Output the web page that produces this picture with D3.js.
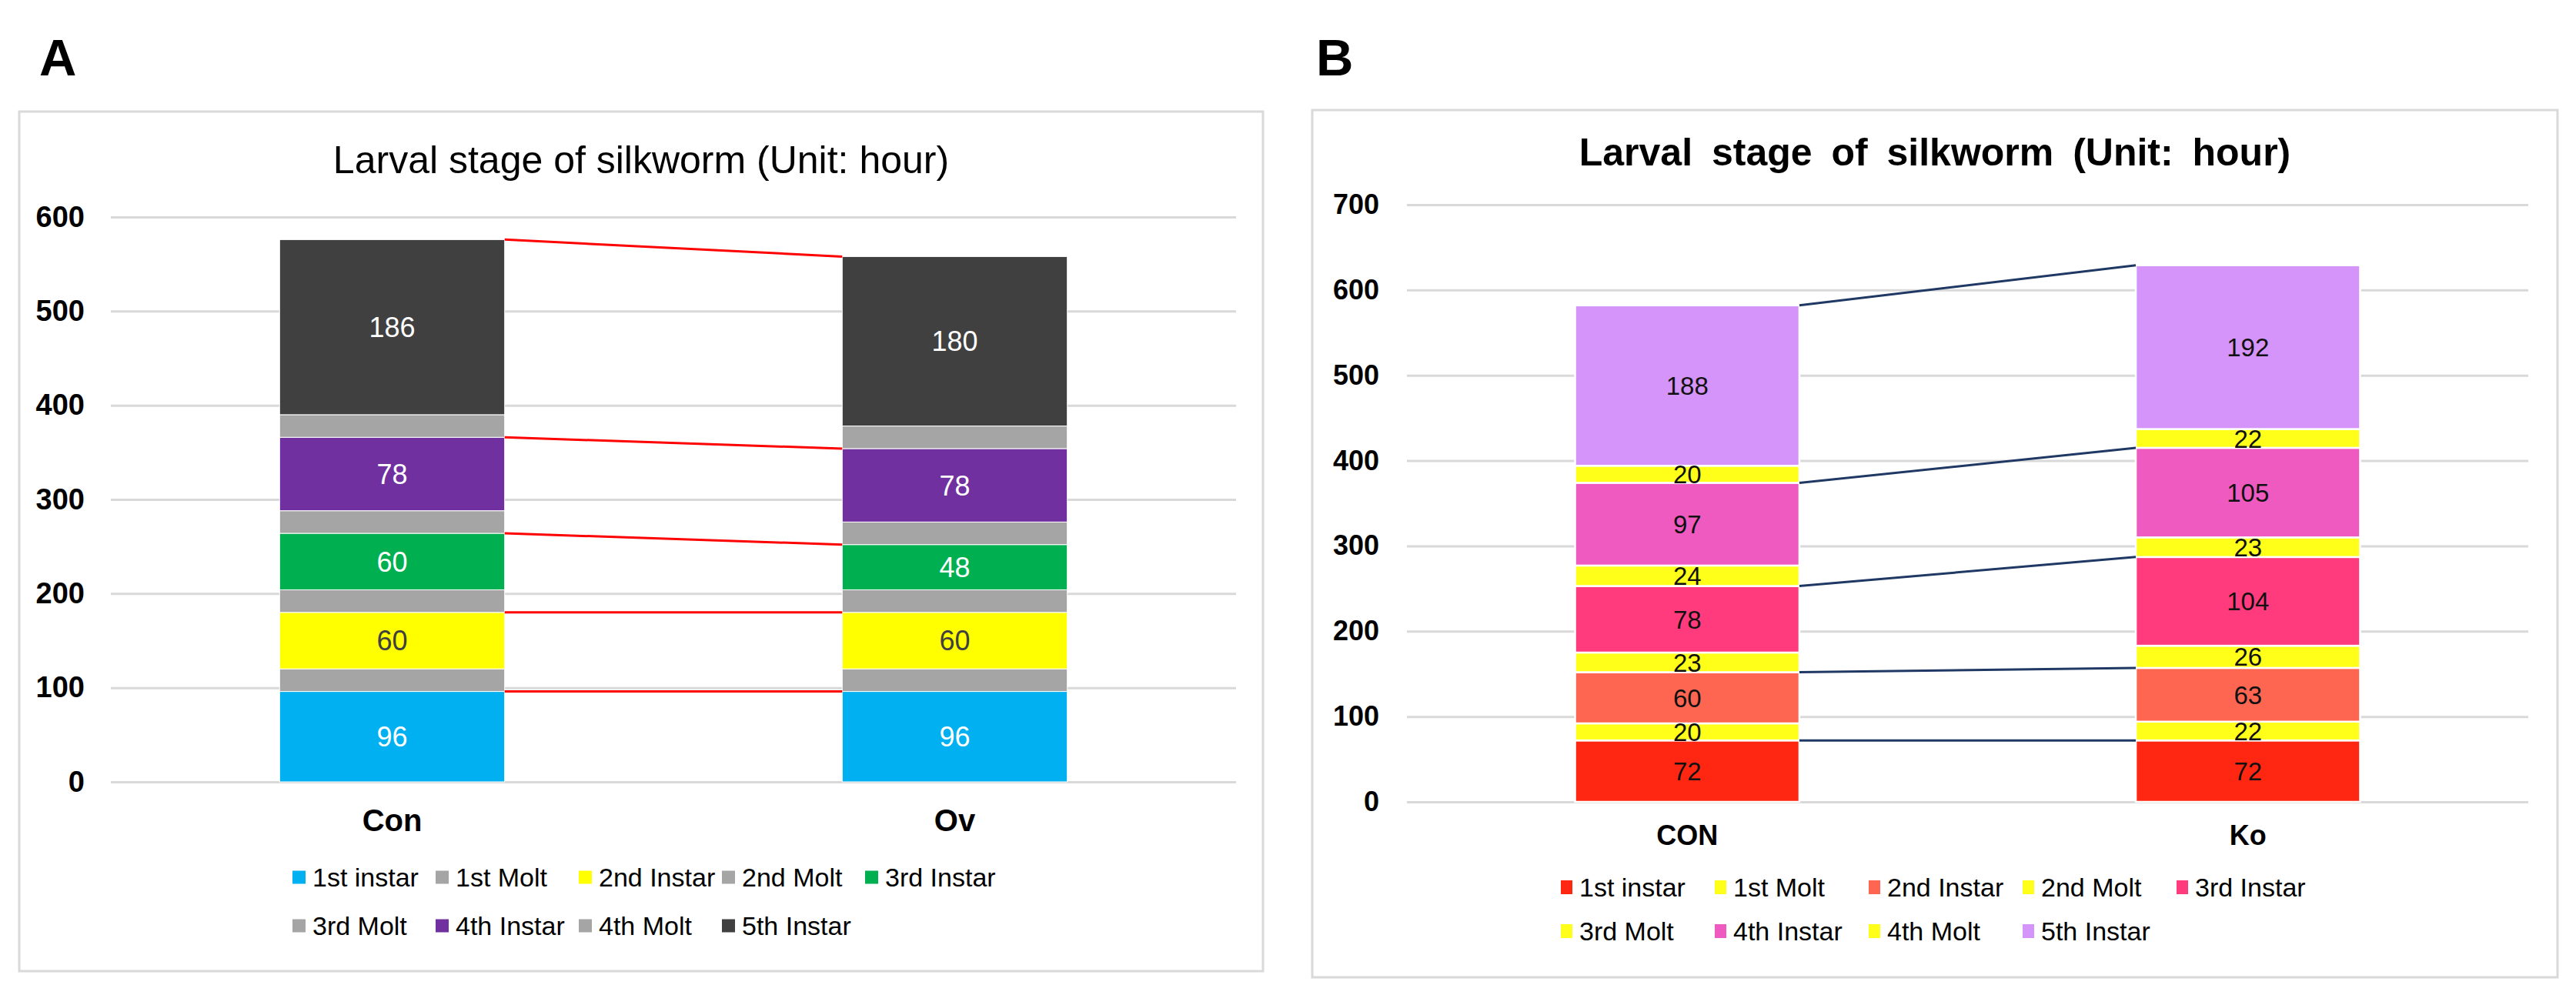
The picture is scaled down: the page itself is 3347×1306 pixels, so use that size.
<!DOCTYPE html>
<html>
<head>
<meta charset="utf-8">
<script src="https://cdn.jsdelivr.net/npm/d3@7"></script>
<style>
  body { margin: 0; background: #fff; }
  text { font-family: "Liberation Sans", Arial, sans-serif; }
</style>
</head>
<body>
<div id="chart"></div>
<script>
// data
var stages = ["1st instar", "1st Molt", "2nd Instar", "2nd Molt", "3rd Instar",
              "3rd Molt", "4th Instar", "4th Molt", "5th Instar"];

var groupsA = ["Con", "Ov"];
var conA = [96, 24, 60, 24, 60, 24, 78, 24, 186];
var ovA  = [96, 24, 60, 24, 48, 24, 78, 24, 180];
var ticksA = [0, 100, 200, 300, 400, 500, 600];
var colorsA = ["#00B0F0", "#A5A5A5", "#FFFF00", "#A5A5A5", "#00B050",
               "#A5A5A5", "#7030A0", "#A5A5A5", "#404040"];
var labelColorsA = ["#fff", "#fff", "#404040", "#fff", "#fff", "#fff", "#fff", "#fff", "#fff"];

var groupsB = ["CON", "Ko"];
var conB = [72, 20, 60, 23, 78, 24, 97, 20, 188];
var koB  = [72, 22, 63, 26, 104, 23, 105, 22, 192];
var ticksB = [0, 100, 200, 300, 400, 500, 600, 700];
var colorsB = ["#FF2711", "#FFFF1A", "#FF6651", "#FFFF1A", "#FF3B7E",
               "#FFFF1A", "#EF5AC1", "#FFFF1A", "#D594F9"];

var svgWidth = 3347;
var svgHeight = 1306;

var svg = d3.select("#chart")
  .append("svg")
  .attr("width", svgWidth)
  .attr("height", svgHeight);

// one panel: frame, title, grid, stacked bars, connectors, legend
function drawPanel(p) {
  var g = svg.append("g");

  // frame
  g.append("rect")
    .attr("x", p.box[0]).attr("y", p.box[1])
    .attr("width", p.box[2] - p.box[0]).attr("height", p.box[3] - p.box[1])
    .attr("fill", "#fff")
    .attr("stroke", "#d9d9d9")
    .attr("stroke-width", 3);

  // panel letter
  g.append("text")
    .attr("x", p.letterX).attr("y", 98)
    .attr("font-size", 67).attr("font-weight", "bold")
    .text(p.letter);

  // title
  g.append("text")
    .attr("x", (p.box[0] + p.box[2]) / 2).attr("y", p.titleY)
    .attr("text-anchor", "middle")
    .attr("font-size", p.titleSize)
    .attr("font-weight", p.titleWeight)
    .attr("word-spacing", p.wordSpacing)
    .text("Larval stage of silkworm (Unit: hour)");

  var y = d3.scaleLinear()
    .domain([0, d3.max(p.ticks)])
    .range([p.y0, p.yTop]);

  var x = d3.scaleBand()
    .domain(p.groups)
    .range([p.xLeft, p.xRight]);

  // gridlines and y labels
  var leftAxis = d3.axisLeft(y)
    .tickValues(p.ticks)
    .tickSize(-(p.xRight - p.xLeft))
    .tickPadding(p.xLeft - p.labelRight);

  var yAxis = g.append("g")
    .attr("transform", `translate(${p.xLeft}, 0)`)
    .call(leftAxis);
  yAxis.select(".domain").remove();
  yAxis.selectAll(".tick line")
    .attr("stroke", "#d9d9d9")
    .attr("stroke-width", 3);
  yAxis.selectAll(".tick text")
    .attr("font-size", p.tickSize)
    .attr("font-weight", "bold")
    .attr("fill", "#000")
    .style("font-family", "'Liberation Sans', Arial, sans-serif");

  // category labels
  var bottomAxis = d3.axisBottom(x).tickSize(0).tickPadding(0);
  var xAxis = g.append("g")
    .attr("transform", `translate(0, ${p.catY})`)
    .call(bottomAxis);
  xAxis.select(".domain").remove();
  xAxis.selectAll(".tick text")
    .attr("dy", 0)
    .attr("font-size", p.catSize)
    .attr("font-weight", "bold")
    .attr("fill", "#000")
    .style("font-family", "'Liberation Sans', Arial, sans-serif");

  var barW = x.bandwidth() * 0.4;

  // stacked segments
  var segs = [];
  p.series.forEach(function(vals, gi) {
    var base = 0;
    vals.forEach(function(v, si) {
      segs.push({ group: p.groups[gi], stage: si, lo: base, hi: base + v, v: v });
      base += v;
    });
  });

  g.selectAll(".seg")
    .data(segs)
    .enter()
    .append("rect")
    .attr("class", "seg")
    .attr("x", d => x(d.group) + (x.bandwidth() - barW) / 2)
    .attr("y", d => y(d.hi))
    .attr("width", barW)
    .attr("height", d => y(d.lo) - y(d.hi))
    .attr("fill", d => p.colors[d.stage])
    .attr("stroke", "#fff")
    .attr("stroke-width", p.segStroke);

  g.selectAll(".seglabel")
    .data(segs.filter(d => p.showMolt || d.stage % 2 === 0))
    .enter()
    .append("text")
    .attr("class", "seglabel")
    .attr("x", d => x(d.group) + x.bandwidth() / 2)
    .attr("y", d => (y(d.lo) + y(d.hi)) / 2)
    .attr("dy", "0.36em")
    .attr("text-anchor", "middle")
    .attr("font-size", p.valueSize)
    .attr("fill", d => p.labelColors ? p.labelColors[d.stage] : "#111")
    .text(d => d.v);

  // connector lines at the top of each instar
  var links = [];
  for (var si = 0; si < stages.length; si += 2) {
    var a = d3.sum(p.series[0].slice(0, si + 1));
    var b = d3.sum(p.series[1].slice(0, si + 1));
    links.push([a, b]);
  }
  g.selectAll(".link")
    .data(links)
    .enter()
    .append("line")
    .attr("class", "link")
    .attr("x1", x(p.groups[0]) + (x.bandwidth() + barW) / 2)
    .attr("x2", x(p.groups[1]) + (x.bandwidth() - barW) / 2)
    .attr("y1", d => y(d[0]))
    .attr("y2", d => y(d[1]))
    .attr("stroke", p.linkColor)
    .attr("stroke-width", 3);

  // legend, 5 per row
  var leg = g.selectAll(".leg")
    .data(stages)
    .enter()
    .append("g")
    .attr("class", "leg")
    .attr("transform", (d, i) => `translate(${p.legX + (i % 5) * p.legCol}, ${p.legRows[Math.floor(i / 5)]})`);
  leg.append("rect")
    .attr("x", 0).attr("y", -p.sq / 2)
    .attr("width", p.sqW).attr("height", p.sq)
    .attr("fill", (d, i) => p.colors[i]);
  leg.append("text")
    .attr("x", p.sqW + 9)
    .attr("dy", "0.36em")
    .attr("font-size", p.legSize)
    .attr("fill", "#000")
    .text(d => d);
}

drawPanel({
  letter: "A", letterX: 51,
  box: [25, 145, 1641, 1262],
  titleY: 225, titleSize: 50, titleWeight: "normal", wordSpacing: 0,
  groups: groupsA, series: [conA, ovA], ticks: ticksA,
  colors: colorsA, labelColors: labelColorsA, showMolt: false,
  xLeft: 144, xRight: 1606, y0: 1016, yTop: 282,
  labelRight: 110, tickSize: 38,
  catY: 1080, catSize: 40,
  valueSize: 36, segStroke: 1,
  linkColor: "#FF0000",
  legX: 380, legCol: 186, legRows: [1140, 1203], sq: 17, sqW: 17, legSize: 34
});

drawPanel({
  letter: "B", letterX: 1710,
  box: [1705, 143, 3323, 1270],
  titleY: 215, titleSize: 50, titleWeight: "bold", wordSpacing: 11,
  groups: groupsB, series: [conB, koB], ticks: ticksB,
  colors: colorsB, labelColors: null, showMolt: true,
  xLeft: 1828, xRight: 3285, y0: 1042, yTop: 266,
  labelRight: 1792, tickSize: 36,
  catY: 1098, catSize: 36,
  valueSize: 33, segStroke: 2.5,
  linkColor: "#1F3864",
  legX: 2028, legCol: 200, legRows: [1153, 1210], sq: 18, sqW: 15, legSize: 34
});
</script>
</body>
</html>
